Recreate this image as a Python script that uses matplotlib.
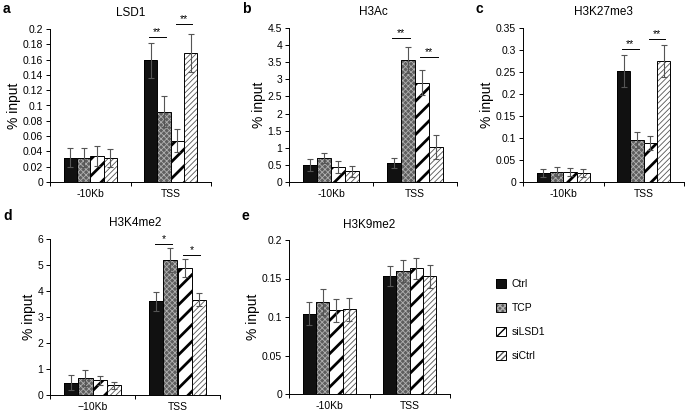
import numpy as np
import matplotlib.pyplot as plt
from matplotlib.ticker import FuncFormatter

plt.rcParams['font.family'] = ['Liberation Sans', 'DejaVu Sans']

groups = ['-10Kb', 'TSS']
series = ['Ctrl', 'TCP', 'siLSD1', 'siCtrl']

# rows = series (Ctrl, TCP, siLSD1, siCtrl), columns = groups (-10Kb, TSS)
lsd1_mean = [[0.032, 0.159], [0.032, 0.092], [0.034, 0.054], [0.031, 0.169]]
lsd1_err = [[0.013, 0.023], [0.012, 0.020], [0.013, 0.015], [0.012, 0.025]]

h3ac_mean = [[0.50, 0.55], [0.70, 3.57], [0.43, 2.90], [0.31, 1.02]]
h3ac_err = [[0.17, 0.15], [0.15, 0.38], [0.17, 0.36], [0.17, 0.35]]

h3k27_mean = [[0.021, 0.252], [0.023, 0.096], [0.023, 0.089], [0.021, 0.275]]
h3k27_err = [[0.009, 0.036], [0.010, 0.018], [0.009, 0.016], [0.009, 0.036]]

h3k4_mean = [[0.48, 3.60], [0.65, 5.20], [0.56, 4.87], [0.37, 3.67]]
h3k4_err = [[0.30, 0.35], [0.30, 0.45], [0.18, 0.35], [0.13, 0.25]]

h3k9_mean = [[0.104, 0.153], [0.120, 0.160], [0.109, 0.163], [0.110, 0.153]]
h3k9_err = [[0.015, 0.013], [0.017, 0.014], [0.015, 0.014], [0.015, 0.015]]

# significance marks at TSS: (first series, second series, height, text)
lsd1_sig = [(0, 1, 0.189, '**'), (2, 3, 0.206, '**')]
h3ac_sig = [(0, 1, 4.22, '**'), (2, 3, 3.66, '**')]
h3k27_sig = [(0, 1, 0.302, '**'), (2, 3, 0.325, '**')]
h3k4_sig = [(0, 1, 5.82, '*'), (2, 3, 5.40, '*')]
h3k9_sig = []

W, H = 685, 413

# face, hatch, hatch colour, hatch width
styles = [
    ('#111111', None, 'black', 1.0),
    ('#5e5e5e', 'xxxxxx', '#b0b0b0', 0.6),
    ('white', '//', 'black', 2.0),
    ('white', '//////', '#555555', 0.6),
]

panels = [
    ('a', 'LSD1', lsd1_mean, lsd1_err, 0.2, 0.02, lsd1_sig, (50, 211, 29, 182), '-10Kb'),
    ('b', 'H3Ac', h3ac_mean, h3ac_err, 4.5, 0.5, h3ac_sig, (289, 457, 28, 182), '-10Kb'),
    ('c', 'H3K27me3', h3k27_mean, h3k27_err, 0.35, 0.05, h3k27_sig, (523, 684, 28, 182), '-10Kb'),
    ('d', 'H3K4me2', h3k4_mean, h3k4_err, 6, 1, h3k4_sig, (50, 220, 239, 395), '\u221210Kb'),
    ('e', 'H3K9me2', h3k9_mean, h3k9_err, 0.2, 0.05, h3k9_sig, (289, 450, 240, 394), '-10Kb'),
]

fig = plt.figure(figsize=(W / 100, H / 100), dpi=100)

bw = 0.166
x = np.arange(len(groups))
handles = []

for letter, title, mean, err, ymax, step, sig, box, lab0 in panels:
    l, r, t, b = box
    ax = fig.add_axes([l / W, 1 - b / H, (r - l) / W, (b - t) / H])
    for i, (face, hatch, hcol, hlw) in enumerate(styles):
        xi = x + (i - 1.5) * bw
        with plt.rc_context({'hatch.linewidth': hlw}):
            fill = ax.bar(xi, mean[i], bw, color=face, hatch=hatch,
                          edgecolor=hcol, linewidth=0)
            for p in fill:
                if hasattr(p, 'set_hatch_linewidth'):
                    p.set_hatch_linewidth(hlw)
        edge = ax.bar(xi, mean[i], bw, fill=False, edgecolor='black', linewidth=0.7)
        ax.errorbar(xi, mean[i], yerr=err[i], fmt='none', ecolor='#555555',
                    elinewidth=0.8, capsize=2.5, capthick=0.8)
        if letter == 'a':
            handles.append((fill[0], edge[0]))
    for s1, s2, y, txt in sig:
        x1 = 1 + (s1 - 1.5) * bw
        x2 = 1 + (s2 - 1.5) * bw
        ax.plot([x1 - 0.02, x2 + 0.02], [y, y], color='black', lw=0.7, clip_on=False)
        ax.text((x1 + x2) / 2, y, txt, ha='center', va='bottom', fontsize=7.5, clip_on=False)

    ax.set_xlim(-0.5, 1.5)
    ax.set_ylim(0, ymax)
    ax.set_yticks(np.arange(0, ymax + step / 2, step))
    ax.yaxis.set_major_formatter(FuncFormatter(lambda v, p: '%g' % round(v, 4)))
    ax.set_xticks(x)
    ax.set_xticklabels([lab0, groups[1]])
    ax.set_xticks([-0.5, 0.5, 1.5], minor=True)
    ax.tick_params(axis='x', which='major', length=0, labelsize=7.5, pad=5)
    ax.tick_params(axis='x', which='minor', length=3, width=0.7, direction='out')
    ax.tick_params(axis='y', length=3, width=0.7, labelsize=7.5, pad=2)
    for s in ['top', 'right']:
        ax.spines[s].set_visible(False)
    for s in ['left', 'bottom']:
        ax.spines[s].set_linewidth(0.7)
    ax.set_ylabel('% input', fontsize=10, labelpad=1)
    ax.set_title(title, fontsize=8.5, pad=9)
    ly = 9 if letter in 'abc' else 216
    fig.text((l - 47) / W, 1 - ly / H, letter, fontsize=10, fontweight='bold',
             ha='left', va='center')

fig.legend(handles, series, loc='upper left', bbox_to_anchor=(491 / W, 1 - 274 / H),
           frameon=False, fontsize=7.5, handlelength=0.9, handleheight=0.9,
           handletextpad=0.6, labelspacing=1.35, borderpad=0)

fig.savefig('out.png', dpi=100, facecolor='white')
